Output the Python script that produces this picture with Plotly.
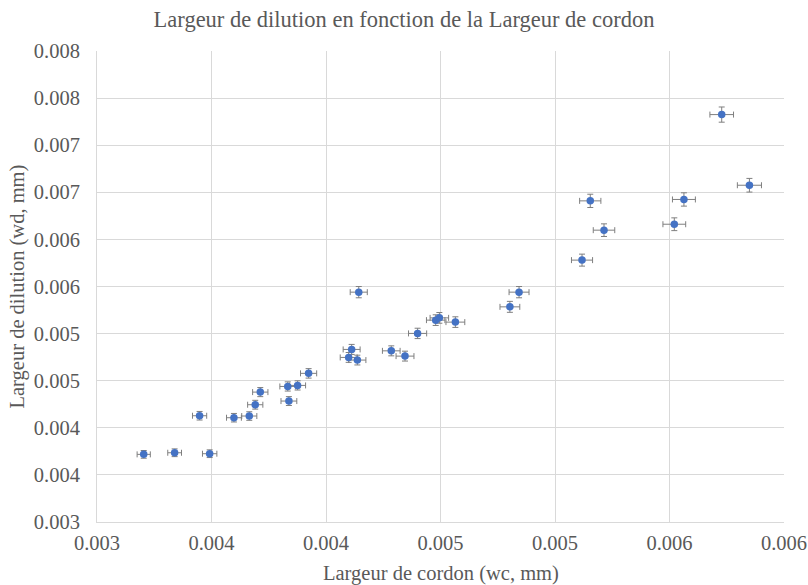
import plotly.graph_objects as go

# Data
wc = [0.003204, 0.003339, 0.003492, 0.003448, 0.003598, 0.003665, 0.003691,
      0.003713, 0.003833, 0.003838, 0.003876, 0.003924, 0.004143, 0.004112,
      0.004099, 0.004137, 0.004285, 0.004345, 0.004400, 0.004479, 0.004495,
      0.004565, 0.004803, 0.004843, 0.005728, 0.005849, 0.005154, 0.005563,
      0.005214, 0.005521, 0.005118]
wd = [0.003718, 0.003735, 0.003725, 0.004128, 0.004107, 0.004125, 0.004245,
      0.004379, 0.004439, 0.004284, 0.004450, 0.004578, 0.005440, 0.004832,
      0.004747, 0.004719, 0.004817, 0.004761, 0.005002, 0.005143, 0.005167,
      0.005122, 0.005284, 0.005440, 0.007325, 0.006575, 0.006409, 0.006424,
      0.006098, 0.006161, 0.005780]
err_x_pct = 0.9
err_y_pct = 1.1

x_tickvals = [0.003, 0.0035, 0.004, 0.0045, 0.005, 0.0055, 0.006]
x_ticktext = ["0.003", "0.004", "0.004", "0.005", "0.005", "0.006", "0.006"]
y_tickvals = [0.003, 0.0035, 0.004, 0.0045, 0.005, 0.0055, 0.006, 0.0065, 0.007, 0.0075, 0.008]
y_ticktext = ["0.003", "0.004", "0.004", "0.005", "0.005", "0.006", "0.006",
              "0.007", "0.007", "0.008", "0.008"]

title_text = "Largeur de dilution en fonction de la Largeur de cordon"
x_title = "Largeur de cordon (wc, mm)"
y_title = "Largeur de dilution (wd, mm)"

FONT = "Liberation Serif"
GREY = "#595959"
TICK_SIZE = 20.5

fig = go.Figure()
fig.add_trace(go.Scatter(
    x=wc, y=wd, mode="markers",
    marker=dict(color="#4472C4", size=7.5, line=dict(width=0)),
    error_x=dict(type="percent", value=err_x_pct, color="#7f7f7f", thickness=1, width=3),
    error_y=dict(type="percent", value=err_y_pct, color="#7f7f7f", thickness=1, width=3),
    showlegend=False,
))

fig.update_layout(
    width=808, height=585,
    margin=dict(l=97, r=24, t=51, b=63, autoexpand=False),
    paper_bgcolor="white", plot_bgcolor="white",
    font=dict(family=FONT, color=GREY, size=TICK_SIZE),
    title=dict(text=title_text, x=0.5, xanchor="center", xref="container",
               y=1 - 19 / 585, yanchor="middle", yref="container",
               font=dict(family=FONT, size=22.5, color=GREY)),
    xaxis=dict(
        range=[0.003, 0.006], tickvals=x_tickvals, ticktext=x_ticktext,
        automargin=False,
        showgrid=True, gridcolor="#d9d9d9", gridwidth=1,
        showline=True, linecolor="#d9d9d9", linewidth=1,
        zeroline=False, ticks="", ticklen=0, ticklabelstandoff=2,
        tickfont=dict(size=TICK_SIZE, color=GREY, family=FONT),
    ),
    yaxis=dict(
        range=[0.003, 0.008], tickvals=y_tickvals, ticktext=y_ticktext,
        automargin=False,
        showgrid=True, gridcolor="#d9d9d9", gridwidth=1,
        showline=True, linecolor="#d9d9d9", linewidth=1,
        zeroline=False, ticks="", ticklen=0, ticklabelstandoff=12,
        tickfont=dict(size=TICK_SIZE, color=GREY, family=FONT),
    ),
    annotations=[
        dict(text=x_title, xref="paper", yref="paper", x=0.5, y=(522 - 573) / 471,
             xanchor="center", yanchor="middle", showarrow=False,
             font=dict(family=FONT, size=TICK_SIZE, color=GREY)),
        dict(text=y_title, xref="paper", yref="paper", x=(17 - 97) / 687, y=0.5,
             xanchor="center", yanchor="middle", showarrow=False, textangle=-90,
             font=dict(family=FONT, size=TICK_SIZE, color=GREY)),
    ],
)

fig.write_html("out.html", config={"displayModeBar": False},
               post_script="document.body.style.margin='0';")
